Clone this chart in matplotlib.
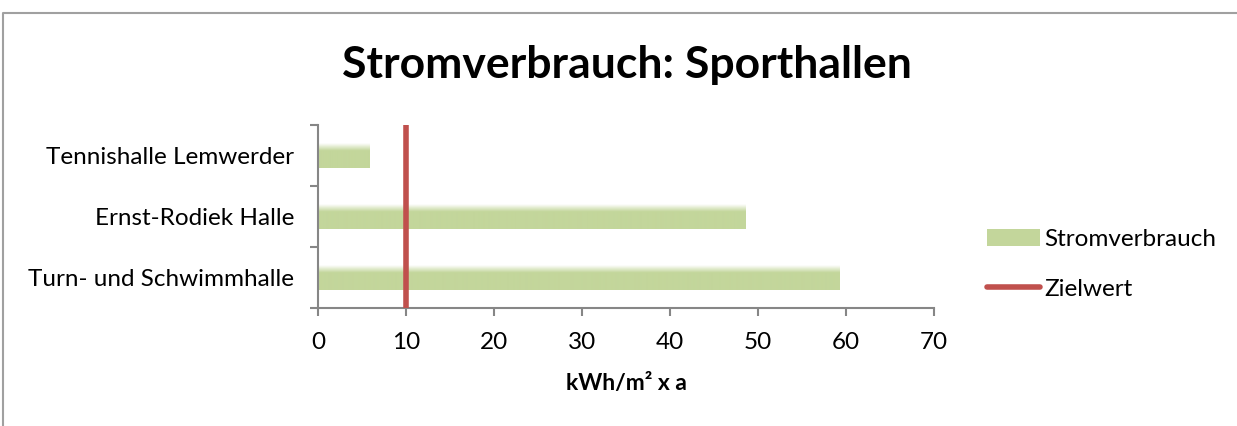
import numpy as np
import matplotlib.pyplot as plt
from matplotlib.lines import Line2D
from matplotlib.patches import Patch
from matplotlib.colors import LinearSegmentedColormap

plt.rcParams['font.family'] = ['Lato', 'DejaVu Sans']

hallen = ['Turn- und Schwimmhalle', 'Ernst-Rodiek Halle', 'Tennishalle Lemwerder']
verbrauch = [59.3, 48.6, 5.8]
zielwert = 10

gruen = '#C3D69B'
rot = '#C0504D'
grau = '#868686'

fig = plt.figure(figsize=(12.37, 4.26), dpi=100)
ax = fig.add_axes([0.2571, 0.277, 0.498, 0.4296])

pos = np.arange(len(hallen))
bars = ax.barh(pos, verbrauch, height=0.4, color='none', edgecolor='none')

# gradient: solid green on top, fading to white at the bottom
cmap = LinearSegmentedColormap.from_list('g', [(0, gruen), (0.7, gruen), (1, '#FFFFFF')])
grad = np.linspace(0, 1, 100).reshape(-1, 1)
for b in bars:
    x0, y0 = b.get_x(), b.get_y()
    w, h = b.get_width(), b.get_height()
    im = ax.imshow(grad, cmap=cmap, aspect='auto', extent=[x0, x0 + w, y0 + h, y0],
                   origin='upper', zorder=2, interpolation='bilinear')
    im.set_clip_path(b)

ax.axvline(zielwert, color=rot, lw=4, zorder=3, solid_capstyle='round')

ax.set_xlim(0, 70)
ax.set_ylim(-0.5, len(hallen) - 0.5)
ax.set_xticks(range(0, 71, 10))
ax.set_yticks(np.arange(-0.5, len(hallen), 1))
ax.set_yticklabels([])
ax.set_yticks(pos, minor=True)
ax.set_yticklabels(hallen, minor=True)
ax.tick_params(axis='y', which='minor', length=0, labelsize=17.5, pad=17)
ax.tick_params(axis='y', which='major', length=6, color=grau, width=1.5)
ax.tick_params(axis='x', length=6, color=grau, width=1.5, labelsize=17.5, pad=11)

for s in ['top', 'right']:
    ax.spines[s].set_visible(False)
for s in ['left', 'bottom']:
    ax.spines[s].set_color(grau)
    ax.spines[s].set_linewidth(1.5)

ax.set_xlabel('kWh/m² x a', fontsize=16.5, fontweight='bold', labelpad=15)
fig.suptitle('Stromverbrauch: Sporthallen', fontsize=32, fontweight='bold', y=0.895, x=0.507)

handles = [Patch(facecolor=gruen, edgecolor='none', label='Stromverbrauch'),
           Line2D([0], [0], color=rot, lw=4, label='Zielwert', solid_capstyle='round')]
fig.legend(handles=handles, loc='center left', bbox_to_anchor=(0.78, 0.38), frameon=False,
           fontsize=17.5, handlelength=2.2, handletextpad=0.15, labelspacing=1.2)

# chart frame
fig.add_artist(Line2D([0.0025, 0.0025, 1.0], [0.0, 0.9695, 0.9695], color='#A0A0A0', lw=1.5))

fig.savefig('out.png', dpi=100)
